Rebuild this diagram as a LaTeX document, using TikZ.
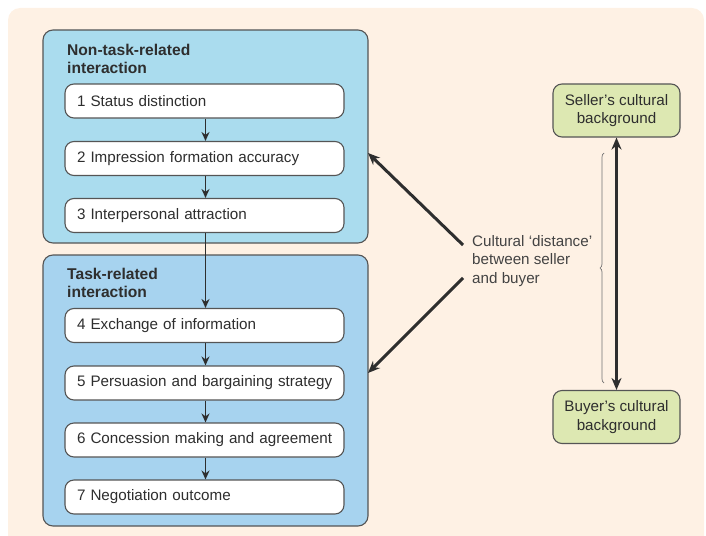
\documentclass[tikz,border=0pt]{standalone}
\usepackage{fontspec}
\setmainfont{Liberation Sans}
\usetikzlibrary{arrows.meta,decorations.pathreplacing}

\definecolor{cream}{HTML}{FEF1E4}
\definecolor{skyA}{HTML}{AADCEE}
\definecolor{skyB}{HTML}{A7D3EF}
\definecolor{leaf}{HTML}{DDE8B2}
\definecolor{edge}{HTML}{555555}
\definecolor{ink}{HTML}{2E2E2E}

\tikzset{
  txt/.style={font=\fontsize{15.2}{18.5}\selectfont, text=ink},
  panel/.style={draw=edge, line width=1.1pt, rounded corners=10pt},
  stage/.style={txt, draw=edge, line width=1.1pt, fill=white, rounded corners=9pt,
    minimum width=279pt, minimum height=34pt, text width=260pt, align=left,
    inner xsep=9.5pt, inner ysep=0pt},
  heading/.style={txt, font=\fontsize{15.6}{18.5}\selectfont\bfseries, align=left,
    anchor=west, inner sep=0pt},
  origin/.style={txt, draw=edge, line width=1.1pt, fill=leaf, rounded corners=9pt,
    minimum width=127pt, minimum height=53pt, align=center, inner sep=0pt},
  flow/.style={draw=ink, line width=1.6pt, -{Stealth[length=9pt, width=8pt]}},
  impact/.style={draw=ink, line width=3pt, -{Stealth[length=12pt, width=10pt]}},
}

\begin{document}
\begin{tikzpicture}[x=1pt, y=-1pt]
  \useasboundingbox (0,0) rectangle (706,535);
  % page background
  \fill[cream, rounded corners=12pt] (8,8) rectangle (704,560);

  % the two interaction panels
  \draw[panel, fill=skyA] (43,30) rectangle (368,243);
  \draw[panel, fill=skyB] (43,255) rectangle (368,526);
  \node[heading] (h1) at (67,59) {Non-task-related\\interaction};
  \node[heading] (h2) at (67,283) {Task-related\\interaction};

  % the seven stages
  \node[stage] (s1) at (204.5,101)   {\hspace*{2.5pt}1 Status distinction};
  \node[stage] (s2) at (204.5,158.5) {\hspace*{2.5pt}2 Impression formation accuracy};
  \node[stage] (s3) at (204.5,215.5) {\hspace*{2.5pt}3 Interpersonal attraction};
  \node[stage] (s4) at (204.5,325.5) {\hspace*{2.5pt}4 Exchange of information};
  \node[stage] (s5) at (204.5,383)   {\hspace*{2.5pt}5 Persuasion and bargaining strategy};
  \node[stage] (s6) at (204.5,440)   {\hspace*{2.5pt}6 Concession making and agreement};
  \node[stage] (s7) at (204.5,497)   {\hspace*{2.5pt}7 Negotiation outcome};

  \foreach \a/\b in {s1/s2, s2/s3, s3/s4, s4/s5, s5/s6, s6/s7}
    \draw[flow] ([xshift=1pt]\a.south) -- ([xshift=1pt]\b.north);

  % cultural backgrounds and the distance between them
  \node[origin] (seller) at (616.5,110.5) {Seller’s cultural\\background};
  \node[origin] (buyer)  at (616.5,417)   {Buyer’s cultural\\background};
  \draw[ink, line width=3.2pt, {Stealth[length=12pt, width=10pt]}-{Stealth[length=12pt, width=10pt]}]
    (seller.south) -- (buyer.north);
  \draw[draw=gray!90!black, line width=0.7pt, decorate,
        decoration={brace, amplitude=4pt}]
    (604,383) -- (604,153);

  \node[txt, text=ink!90, align=left, anchor=west, inner sep=0pt] (dist) at (472,261)
    {Cultural ‘distance’\\between seller\\and buyer};
  \coordinate (upfrom) at (463,245);
  \coordinate (downfrom) at (463,278);
  \coordinate (upto) at (368,153);
  \coordinate (downto) at (368,373);
  \draw[impact] (upfrom) -- (upto);
  \draw[impact] (downfrom) -- (downto);
\end{tikzpicture}
\end{document}
